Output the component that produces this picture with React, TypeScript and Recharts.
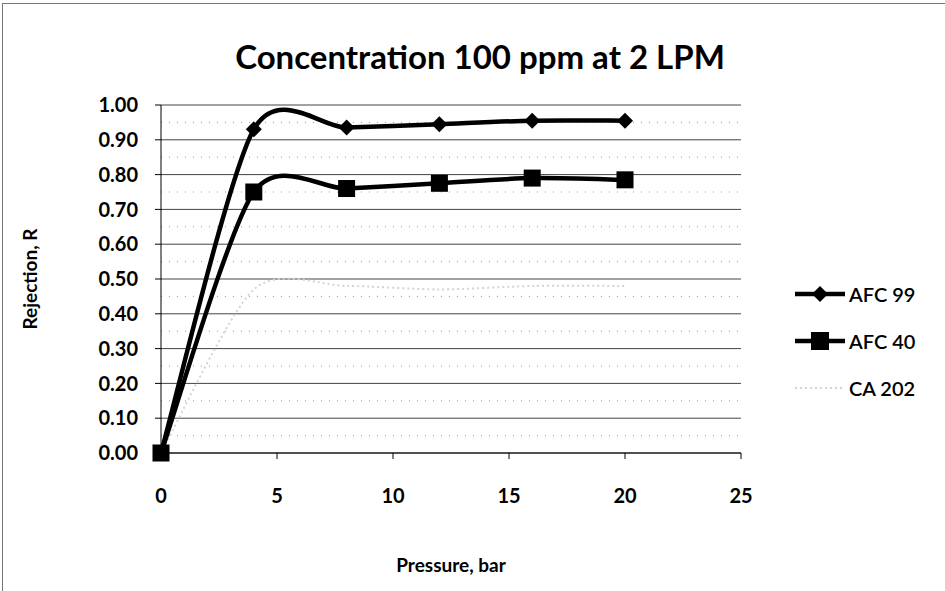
import { LineChart, Line, XAxis, YAxis, CartesianGrid, ReferenceLine } from 'recharts'

const PRESSURE = [0, 4, 8, 12, 16, 20]
const AFC99 = [0, 0.93, 0.935, 0.945, 0.955, 0.955]
const AFC40 = [0, 0.75, 0.76, 0.775, 0.79, 0.785]
const CA202 = [0, 0.47, 0.48, 0.47, 0.48, 0.48]

const X_TICKS = [0, 5, 10, 15, 20, 25]
const Y_TICKS = [0, 0.1, 0.2, 0.3, 0.4, 0.5, 0.6, 0.7, 0.8, 0.9, 1.0]
const Y_MINOR = [0.05, 0.15, 0.25, 0.35, 0.45, 0.55, 0.65, 0.75, 0.85, 0.95]

const FONT = 'Lato, "Open Sans", sans-serif'

const data = PRESSURE.map((p, i) => ({ p, afc99: AFC99[i], afc40: AFC40[i], ca202: CA202[i] }))

// Excel-like smoothed line: bezier through every point, tangents from the neighbours
const TENSION = 1 / 7.5
function excelCurve(context: any) {
  let pts: number[][] = []
  return {
    areaStart() {},
    areaEnd() {},
    lineStart() { pts = [] },
    point(x: number, y: number) { pts.push([+x, +y]) },
    lineEnd() {
      if (!pts.length) return
      context.moveTo(pts[0][0], pts[0][1])
      for (let i = 0; i < pts.length - 1; i++) {
        const p0 = pts[i - 1] || pts[i]
        const p1 = pts[i]
        const p2 = pts[i + 1]
        const p3 = pts[i + 2] || p2
        context.bezierCurveTo(
          p1[0] + (p2[0] - p0[0]) * TENSION, p1[1] + (p2[1] - p0[1]) * TENSION,
          p2[0] - (p3[0] - p1[0]) * TENSION, p2[1] - (p3[1] - p1[1]) * TENSION,
          p2[0], p2[1],
        )
      }
    },
  }
}

const Diamond = (props: any) => {
  const { cx, cy } = props
  if (cx == null || cy == null) return null
  const r = 8
  return <path d={`M${cx},${cy - r}L${cx + r},${cy}L${cx},${cy + r}L${cx - r},${cy}Z`} fill="#000" />
}

const Square = (props: any) => {
  const { cx, cy } = props
  if (cx == null || cy == null) return null
  const s = 17
  return <rect x={cx - s / 2} y={cy - s / 2} width={s} height={s} fill="#000" />
}

const LEGEND_ITEMS = [
  { name: 'AFC 99', kind: 'diamond' },
  { name: 'AFC 40', kind: 'square' },
  { name: 'CA 202', kind: 'none' },
]

function ChartLegend() {
  return (
    <div style={{ position: 'absolute', left: 793, top: 270, fontFamily: FONT }}>
      {LEGEND_ITEMS.map(it => (
        <div key={it.name} style={{ display: 'flex', alignItems: 'center', height: 47 }}>
          <svg width={54} height={20}>
            {it.kind === 'none'
              ? <line x1={2} y1={10} x2={52} y2={10} stroke="#d4d4d4" strokeWidth={2} strokeDasharray="2 3" />
              : <line x1={2} y1={10} x2={52} y2={10} stroke="#000" strokeWidth={4.5} />}
            {it.kind === 'diamond' && <path d="M27,2L35,10L27,18L19,10Z" fill="#000" />}
            {it.kind === 'square' && <rect x={18} y={1} width={18} height={18} fill="#000" />}
          </svg>
          <span style={{ fontSize: 20, fontWeight: 600, color: '#000', marginLeft: 2 }}>{it.name}</span>
        </div>
      ))}
    </div>
  )
}

export default function App() {
  return (
    <div style={{ position: 'absolute', left: 0, top: 0, width: 945, height: 591, background: '#fff', fontFamily: FONT }}>
      <div style={{ position: 'absolute', left: 2, top: 3, right: 0, bottom: 0, borderLeft: '1px solid #777', borderTop: '1px solid #777' }} />
      <div style={{ position: 'absolute', left: 0, width: 960, top: 36, textAlign: 'center', fontSize: 33, fontWeight: 700, color: '#000' }}>
        Concentration 100 ppm at 2 LPM
      </div>
      <LineChart width={945} height={591} data={data} margin={{ top: 105, right: 204, bottom: 13, left: 20 }}
        style={{ position: 'absolute', left: 0, top: 0 }}>
        <CartesianGrid horizontal vertical={false} stroke="#444" strokeWidth={1} />
        {Y_MINOR.map(v => (
          <ReferenceLine key={v} y={v} stroke="#999" strokeDasharray="1 7" />
        ))}
        <XAxis
          dataKey="p"
          type="number"
          domain={[0, 25]}
          ticks={X_TICKS}
          interval={0}
          height={125}
          axisLine={{ stroke: '#000', strokeWidth: 1 }}
          tickLine={{ stroke: '#000' }}
          tickSize={6}
          tickMargin={30}
          tick={{ fontSize: 20, fontWeight: 700, fill: '#000', fontFamily: FONT }}
          label={{ value: 'Pressure, bar', position: 'insideBottom', offset: 6, style: { fontSize: 19, fontWeight: 700, fill: '#000', fontFamily: FONT } }}
        />
        <YAxis
          type="number"
          domain={[0, 1]}
          ticks={Y_TICKS}
          interval={0}
          width={141}
          axisLine={{ stroke: '#000', strokeWidth: 1 }}
          tickLine={{ stroke: '#000' }}
          tickSize={6}
          tickMargin={17}
          tickFormatter={(v: number) => v.toFixed(2)}
          tick={{ fontSize: 20, fontWeight: 700, fill: '#000', fontFamily: FONT }}
          label={{ value: 'Rejection, R', angle: -90, position: 'insideLeft', offset: 10, style: { textAnchor: 'middle', fontSize: 19, fontWeight: 700, fill: '#000', fontFamily: FONT } }}
        />
        <Line dataKey="ca202" name="CA 202" type={excelCurve as any} stroke="#d4d4d4" strokeWidth={2} strokeDasharray="2 3" dot={false} isAnimationActive={false} />
        <Line dataKey="afc40" name="AFC 40" type={excelCurve as any} stroke="#000" strokeWidth={4.5} dot={<Square />} activeDot={false} isAnimationActive={false} />
        <Line dataKey="afc99" name="AFC 99" type={excelCurve as any} stroke="#000" strokeWidth={4.5} dot={<Diamond />} activeDot={false} isAnimationActive={false} />
      </LineChart>
      <ChartLegend />
    </div>
  )
}
